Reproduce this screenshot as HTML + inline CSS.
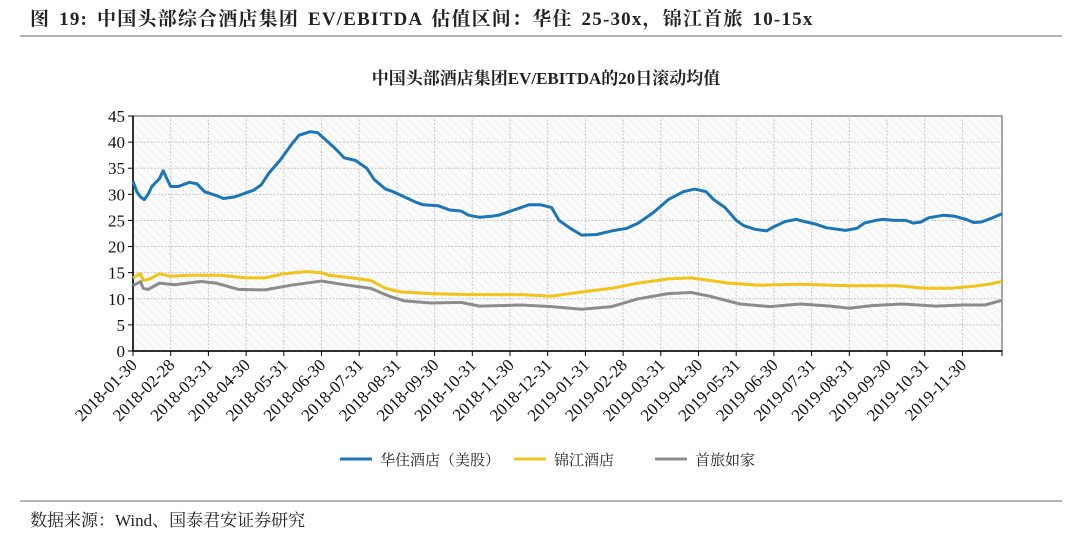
<!DOCTYPE html>
<html><head><meta charset="utf-8"><style>
body{margin:0;background:#fff;width:1080px;height:539px;overflow:hidden;font-family:"Liberation Serif","Noto Serif CJK SC",serif;}
</style></head><body>
<svg width="1080" height="539" viewBox="0 0 1080 539" xmlns="http://www.w3.org/2000/svg">
<defs>
<pattern id="hatch" width="6" height="6" patternUnits="userSpaceOnUse" patternTransform="rotate(-45)">
<rect width="6" height="6" fill="#fbfbfb"/><line x1="0" y1="0" x2="0" y2="6" stroke="#ececec" stroke-width="1.5"/>
</pattern>
</defs>
<text x="30" y="25" font-size="19" font-weight="bold" fill="#222" letter-spacing="1.2" word-spacing="3">图 19:  中国头部综合酒店集团 EV/EBITDA 估值区间：华住 25-30x，锦江首旅 10-15x</text>
<line x1="20" y1="36" x2="1062" y2="36" stroke="#888" stroke-width="1.2"/>
<text x="546" y="84" font-size="17" text-anchor="middle" fill="#222" font-weight="bold">中国头部酒店集团EV/EBITDA的20日滚动均值</text>
<rect x="133" y="116" width="869" height="235" fill="url(#hatch)" stroke="#888" stroke-width="1.5"/>
<g id="grid"></g><g id="axes"></g><g id="series"></g>
<g>
<line x1="340" y1="459" x2="372" y2="459" stroke="#1a76b8" stroke-width="3"/>
<text x="380" y="465" font-size="15" fill="#222">华住酒店（美股）</text>
<line x1="514" y1="459" x2="546" y2="459" stroke="#f2c318" stroke-width="3"/>
<text x="554" y="465" font-size="15" fill="#222">锦江酒店</text>
<line x1="655" y1="459" x2="687" y2="459" stroke="#8c8c8c" stroke-width="3"/>
<text x="695" y="465" font-size="15" fill="#222">首旅如家</text>
</g>
<line x1="20" y1="501" x2="1062" y2="501" stroke="#888" stroke-width="1.2"/>
<text x="30" y="526" font-size="17" fill="#222">数据来源：Wind、国泰君安证券研究</text>
</svg>
<script>
const tickLabels=["2018-01-30","2018-02-28","2018-03-31","2018-04-30","2018-05-31","2018-06-30","2018-07-31","2018-08-31","2018-09-30","2018-10-31","2018-11-30","2018-12-31","2019-01-31","2019-02-28","2019-03-31","2019-04-30","2019-05-31","2019-06-30","2019-07-31","2019-08-31","2019-09-30","2019-10-31","2019-11-30"];
const yTicks=[0,5,10,15,20,25,30,35,40,45];
const blueT=[0,0.1,0.2,0.3,0.4,0.5,0.7,0.8,0.9,1.0,1.2,1.5,1.7,1.9,2.2,2.4,2.7,3.0,3.2,3.4,3.6,3.9,4.2,4.4,4.7,4.9,5.1,5.4,5.6,5.9,6.2,6.4,6.7,6.9,7.2,7.5,7.7,8.1,8.4,8.7,8.9,9.2,9.5,9.7,10.1,10.5,10.8,11.1,11.3,11.6,11.9,12.3,12.7,13.1,13.4,13.8,14.2,14.6,14.9,15.2,15.4,15.7,16.0,16.2,16.5,16.8,17.0,17.3,17.6,17.8,18.1,18.4,18.6,18.9,19.2,19.4,19.7,19.9,20.2,20.5,20.7,20.9,21.1,21.5,21.8,22.1,22.3,22.5,22.8,23.05];
const blueV=[32.5,30.5,29.5,29,30,31.5,33,34.5,33,31.5,31.5,32.3,32,30.5,29.8,29.2,29.5,30.3,30.8,31.8,34,36.5,39.5,41.3,42,41.8,40.5,38.5,37,36.5,35,32.8,31,30.5,29.5,28.5,28,27.8,27,26.8,26,25.6,25.8,26,27,28,28,27.5,25,23.5,22.2,22.3,23,23.5,24.5,26.5,29,30.5,31,30.5,29,27.5,25,24,23.3,23,23.8,24.8,25.2,24.8,24.3,23.6,23.4,23.1,23.5,24.5,25,25.2,25,25,24.5,24.7,25.5,26,25.8,25.2,24.6,24.7,25.5,26.3];
const yellowT=[0,0.2,0.27,0.45,0.7,1.0,1.5,2.3,3.0,3.5,4.0,4.6,5.0,5.2,5.8,6.3,6.7,7.1,7.9,8.9,10.3,11.1,11.9,12.7,13.4,14.2,14.8,15.3,15.8,16.6,17.7,19.0,20.3,21.0,21.7,22.3,22.7,23.05];
const yellowV=[14,14.8,13.5,13.8,14.8,14.3,14.5,14.5,14,14,14.8,15.2,15,14.5,14,13.5,12,11.3,11,10.8,10.8,10.5,11.3,12,13,13.8,14,13.5,13,12.6,12.8,12.5,12.5,12,12,12.4,12.8,13.3];
const grayT=[0,0.2,0.27,0.4,0.7,1.1,1.8,2.2,2.8,3.5,4.2,5.0,5.6,6.3,6.8,7.2,7.9,8.7,9.2,10.3,11.1,11.9,12.7,13.4,14.2,14.8,15.3,16.1,16.9,17.7,18.5,19.0,19.6,20.4,21.3,22.0,22.6,23.05];
const grayV=[12.5,13.3,12,11.8,13,12.7,13.3,13,11.8,11.7,12.6,13.4,12.7,12,10.5,9.6,9.2,9.3,8.6,8.8,8.5,8,8.5,10,11,11.2,10.5,9,8.5,9,8.6,8.2,8.7,9,8.6,8.8,8.8,9.7];
const X0=133,X1=1002,Y0=351,Y1=116,TMAX=23.05,VMAX=45;
const xs=t=>X0+(t/TMAX)*(X1-X0);
const ys=v=>Y0-(v/VMAX)*(Y0-Y1);
const NS="http://www.w3.org/2000/svg";
function mk(tag,attrs,parent){const e=document.createElementNS(NS,tag);for(const k in attrs)e.setAttribute(k,attrs[k]);parent.appendChild(e);return e;}
const grid=document.getElementById('grid'),axes=document.getElementById('axes'),ser=document.getElementById('series');
yTicks.forEach(v=>{
 if(v>0&&v<VMAX){const g=mk('line',{x1:X0,x2:X1,y1:ys(v),y2:ys(v),stroke:'#c8c8c8','stroke-dasharray':'2,1.5'},grid);
 
 }
 const tk=mk('line',{x1:X0-5,x2:X0,y1:ys(v),y2:ys(v),stroke:'#000'},axes);
 
 
 const t=mk('text',{x:X0-8,y:ys(v)+6,'text-anchor':'end','font-size':'17',fill:'#111'},axes);t.textContent=v;
 
 
});
tickLabels.forEach((lab,i)=>{
 const x=xs(i);
 if(i>0){const g=mk('line',{x1:x,x2:x,y1:Y1,y2:Y0,stroke:'#c8c8c8','stroke-dasharray':'2,1.5'},grid);
 
 }
 const tk=mk('line',{x1:x,x2:x,y1:Y0,y2:Y0+5,stroke:'#000'},axes);
 
 
 const t=mk('text',{x:x+5,y:Y0+15,'text-anchor':'end','font-size':'17',fill:'#111',transform:`rotate(-45 ${x+5} ${Y0+15})`},axes);t.textContent=lab;
 
 
});
const endTick=mk('line',{x1:X1,x2:X1,y1:Y0,y2:Y0+5,stroke:'#000'},axes);


const ya=mk('line',{x1:X0,x2:X0,y1:Y1,y2:Y0,stroke:'#000','stroke-width':1.5},axes);


const xa=mk('line',{x1:X0,x2:X1,y1:Y0,y2:Y0,stroke:'#000','stroke-width':1.5},axes);


function line(T,V,color,name){
 const d=T.map((t,i)=>(i?'L':'M')+xs(t).toFixed(1)+','+ys(V[i]).toFixed(1)).join(' ');
 const p=mk('path',{d:d,fill:'none',stroke:color,'stroke-width':3,'stroke-linejoin':'round'},ser);
 
 
}
line(grayT,grayV,'#8c8c8c','series-shoulv-line');
line(yellowT,yellowV,'#f2c318','series-jinjiang-line');
line(blueT,blueV,'#1a76b8','series-huazhu-line');
</script>
</body></html>
